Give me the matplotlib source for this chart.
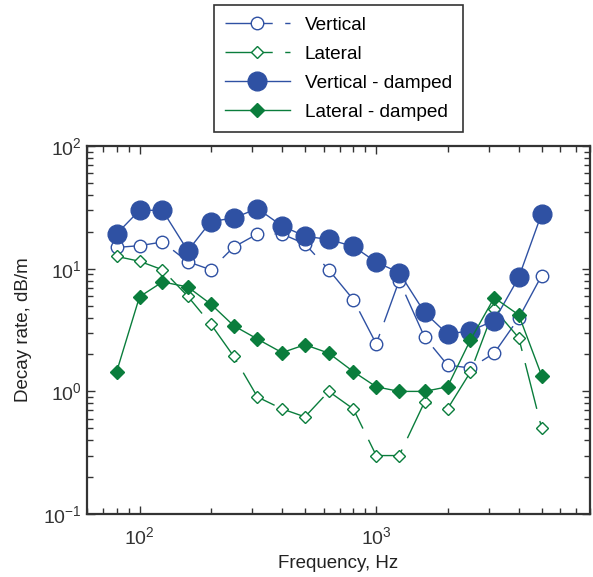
import matplotlib
matplotlib.use("Agg")
from matplotlib import pyplot as plt

plt.rcParams['font.family'] = ['Liberation Sans', 'DejaVu Sans']
plt.rcParams['mathtext.default'] = 'regular'

freqs = [80, 100, 125, 160, 200, 250, 315, 400, 500, 630, 800,
         1000, 1250, 1600, 2000, 2500, 3150, 4000, 5000]
vertical = [14.9, 15.4, 16.5, 11.4, 9.8, 15.0, 19.2, 19.2, 15.9, 9.8, 5.6,
            2.44, 8.0, 2.77, 1.64, 1.55, 2.05, 3.96, 8.8]
lateral = [12.6, 11.5, 9.8, 5.95, 3.54, 1.93, 0.90, 0.72, 0.62, 1.0, 0.72,
           0.30, 0.30, 0.82, 0.72, 1.44, 4.7, 2.73, 0.50]
vertical_damped = [19.2, 29.9, 29.9, 14.0, 24.2, 25.9, 30.9, 22.3, 18.4, 17.3, 15.2,
                   11.3, 9.3, 4.4, 2.93, 3.12, 3.77, 8.5, 28.1]
lateral_damped = [1.44, 5.9, 7.8, 7.1, 5.15, 3.43, 2.67, 2.07, 2.4, 2.05, 1.45,
                  1.09, 1.0, 1.0, 1.09, 2.63, 5.8, 4.2, 1.34]

blue = '#2f51a3'
green = '#0a7d3c'
dash = (0, (34, 9))

fig = plt.figure(figsize=(5.93, 5.77), dpi=100)
ax = fig.add_axes([0.1467, 0.109, 0.8483, 0.638])

ax.plot(freqs, vertical, color=blue, linewidth=1, linestyle=dash, marker='o',
        markersize=9, markerfacecolor='white', markeredgecolor=blue, markeredgewidth=1,
        label='Vertical')
ax.plot(freqs, lateral, color=green, linewidth=1, linestyle=dash, marker='D',
        markersize=6.5, markerfacecolor='white', markeredgecolor=green, markeredgewidth=1,
        label='Lateral')
ax.plot(freqs, vertical_damped, color=blue, linewidth=1, marker='o',
        markersize=13.5, markerfacecolor=blue, markeredgecolor=blue,
        label='Vertical - damped')
ax.plot(freqs, lateral_damped, color=green, linewidth=1, marker='D',
        markersize=7.5, markerfacecolor=green, markeredgecolor=green,
        label='Lateral - damped')

ax.set_xscale('log')
ax.set_yscale('log')
ax.set_xlim(60, 8000)
ax.set_ylim(0.1, 100)

for s in ax.spines.values():
    s.set_color('#333333')
    s.set_linewidth(1.6)
ax.tick_params(which='both', direction='in', top=True, right=True, colors='#333333',
               labelcolor='#333333', labelsize=14)
ax.tick_params(which='major', length=6, width=1)
ax.tick_params(which='minor', length=4, width=1)
ax.tick_params(axis='x', pad=9)

ax.set_xlabel('Frequency, Hz', fontsize=13.5, color='#222222', labelpad=5)
ax.set_ylabel('Decay rate, dB/m', fontsize=13.5, color='#222222', labelpad=8)

leg = ax.legend(loc='lower center', bbox_to_anchor=(0.5, 1.038), fontsize=13.7,
                handlelength=3.4, labelspacing=0.62, borderpad=0.58, fancybox=False,
                framealpha=1, edgecolor='#333333', borderaxespad=0)
leg.get_frame().set_linewidth(1.2)

fig.savefig('out.png', dpi=100)
